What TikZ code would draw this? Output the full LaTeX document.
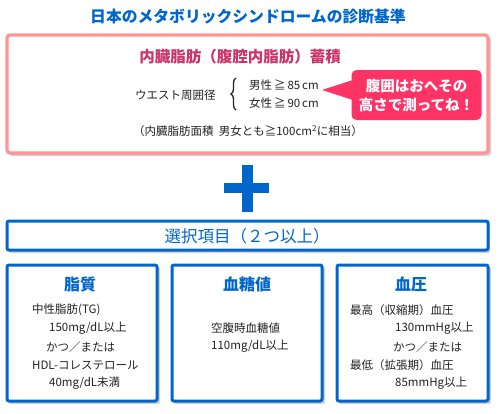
\documentclass[tikz,border=0pt]{standalone}
\usepackage{fontspec}
\setmainfont{Noto Sans CJK JP}
\usetikzlibrary{decorations.pathreplacing}
\definecolor{tblue}{HTML}{0066CC}
\definecolor{pinkline}{HTML}{FF9494}
\definecolor{callout}{HTML}{FF3366}
\definecolor{headpink}{HTML}{CC3366}
\definecolor{txt}{HTML}{222222}
\tikzset{
  shadowbox/.style={fill=black!18, draw=none},
  pinkbox/.style={draw=pinkline, line width=3.2pt, rounded corners=3pt, fill=white},
  bluebox/.style={draw=tblue, line width=3pt, rounded corners=2pt, fill=white},
  small/.style={font=\fontsize{11.5}{13}\selectfont, text=txt, inner sep=0pt, anchor=west},
  boxtitle/.style={font=\fontsize{16}{18}\selectfont\bfseries, text=tblue, inner sep=0pt},
}
\begin{document}
\begin{tikzpicture}[x=1pt,y=-1pt]
\useasboundingbox (0,0) rectangle (500,413);
% title
\node[font=\fontsize{15.8}{18}\selectfont\bfseries, text=tblue, inner sep=0pt] (title) at (248,17) {日本のメタボリックシンドロームの診断基準};
% pink box
\fill[shadowbox, rounded corners=3pt] (9,37) rectangle (491,156);
\draw[pinkbox] (7,35) rectangle (488,153);
\node[font=\fontsize{15.5}{18}\selectfont\bfseries, text=headpink, inner sep=0pt] (head) at (240,57) {内臓脂肪（腹腔内脂肪）蓄積};
\node[small] (waist) at (135,95) {ウエスト周囲径};
\draw[decorate, decoration={brace, amplitude=5pt}, line width=1.3pt, txt] (236,110) -- (236,78);
\node[small] (male) at (249,85) {男性\,≧\,85\,cm};
\node[small] (female) at (249,103) {女性\,≧\,90\,cm};
% callout
\fill[callout] (322,90) -- (356,79) -- (356,101) -- cycle;
\node[fill=callout, rounded corners=5pt, minimum width=130pt, minimum height=50pt, inner sep=0pt,
      font=\fontsize{14.5}{19}\selectfont\bfseries, text=white, align=center] (note) at (416.5,95)
      {腹囲はおへその\\高さで測ってね！};
\node[small] (area) at (133,131) {（内臓脂肪面積\ \ 男女とも≧100cm\textsuperscript{2}に相当）};
% plus sign
\fill[tblue] (224,183) rectangle (269,193);
\fill[tblue] (242,165) rectangle (253,212);
% selection box
\fill[shadowbox, rounded corners=2pt] (9,223) rectangle (490,253);
\draw[bluebox] (7,221) rectangle (488,250);
\node[font=\fontsize{16.5}{18}\selectfont, text=tblue, inner sep=0pt] (sel) at (247,236) {選択項目（２つ以上）};
% three boxes
\fill[shadowbox, rounded corners=2pt] (9,267) rectangle (160,404);
\fill[shadowbox, rounded corners=2pt] (174,267) rectangle (325,404);
\fill[shadowbox, rounded corners=2pt] (339,267) rectangle (491,404);
\draw[bluebox] (7,265) rectangle (157,401);
\draw[bluebox] (172,265) rectangle (322,401);
\draw[bluebox] (337,265) rectangle (488,401);
\node[boxtitle] (t1) at (80,284) {脂質};
\node[boxtitle] (t2) at (247,284) {血糖値};
\node[boxtitle] (t3) at (411,284) {血圧};
% box 1
\node[small] (a1) at (32,310) {中性脂肪(TG)};
\node[small] (a2) at (49,328) {150mg/dL以上};
\node[small] (a3) at (46,347) {かつ／または};
\node[small] (a4) at (32,365) {HDL-コレステロール};
\node[small] (a5) at (49,383) {40mg/dL未満};
% box 2
\node[small] (b1) at (211,328) {空腹時血糖値};
\node[small] (b2) at (211,346) {110mg/dL以上};
% box 3
\node[small] (c1) at (350,310) {最高（収縮期）血圧};
\node[small] (c2) at (395,328) {130mmHg以上};
\node[small] (c3) at (393,347) {かつ／または};
\node[small] (c4) at (350,365) {最低（拡張期）血圧};
\node[small] (c5) at (395,383) {85mmHg以上};
\end{tikzpicture}
\end{document}
